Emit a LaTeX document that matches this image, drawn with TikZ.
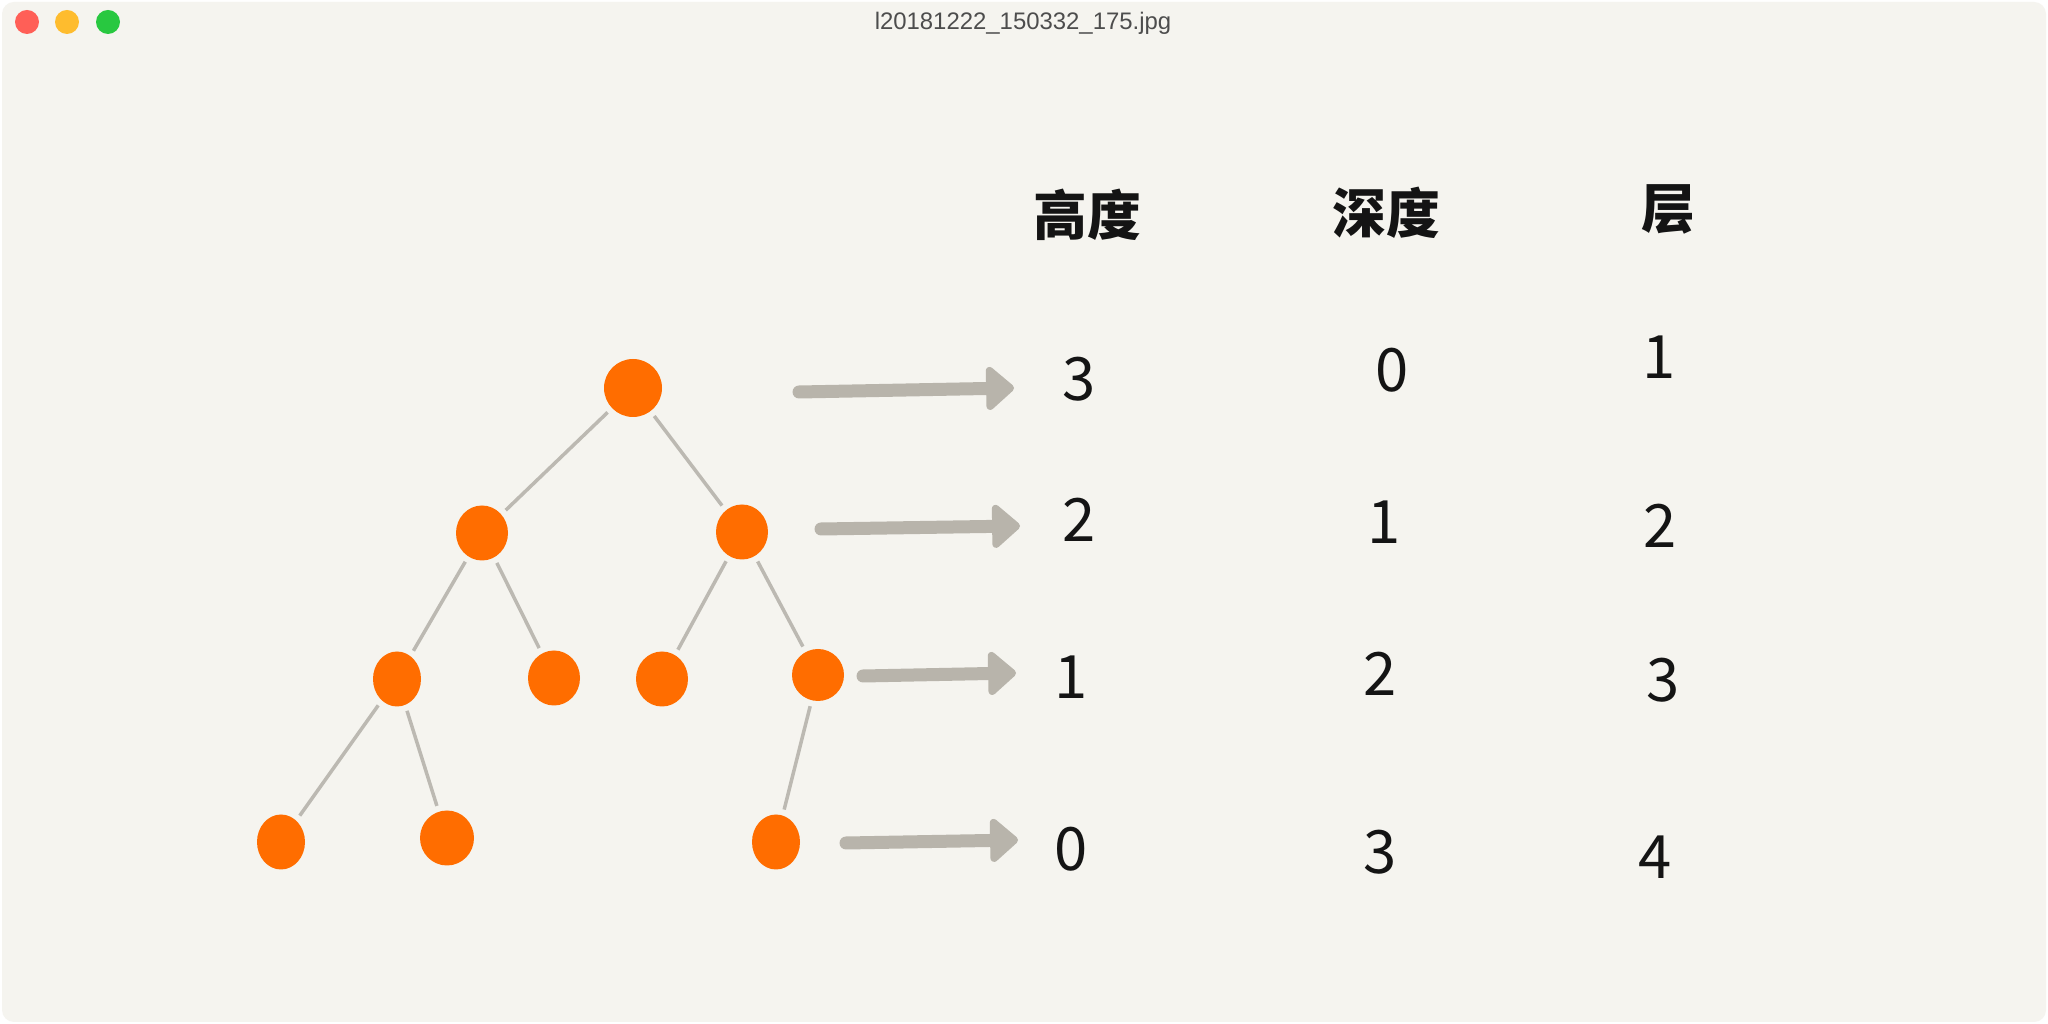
\documentclass[tikz,border=0pt]{standalone}
\usepackage{fontspec}
\setmainfont{Liberation Sans}
\newfontfamily\cjk{Noto Sans CJK SC}
\usetikzlibrary{arrows.meta,shapes.geometric}
\definecolor{winbg}{HTML}{F5F4EF}
\definecolor{nodeorange}{HTML}{FF6D00}
\definecolor{edgegray}{HTML}{BCB9B2}
\definecolor{arrowgray}{HTML}{B8B4AB}
\definecolor{inkblack}{HTML}{141414}
\definecolor{titlegray}{HTML}{4D4D4D}
\definecolor{btnred}{HTML}{FF5F57}
\definecolor{btnyellow}{HTML}{FEBC2E}
\definecolor{btngreen}{HTML}{28C840}
\tikzset{
  treenode/.style={ellipse,fill=nodeorange,draw=none,inner sep=0pt,minimum width=52bp,minimum height=55bp},
  treeedge/.style={draw=edgegray,line width=3.5bp,shorten <=6bp,shorten >=6bp},
  levelarrow/.style={draw=arrowgray,line width=13bp,line cap=round,-{Triangle[length=30bp,width=50bp,round]}},
  header/.style={font=\cjk\bfseries\fontsize{54}{60}\selectfont,text=inkblack},
  value/.style={font=\cjk\fontsize{60}{66}\selectfont,text=inkblack},
  winbutton/.style={circle,inner sep=0pt,minimum size=24bp},
}
\begin{document}
\begin{tikzpicture}[>=latex,line join=bevel,]
\useasboundingbox (0bp,0bp) rectangle (2048bp,1024bp);
\fill [white] (0bp,0bp) rectangle (2048bp,1024bp);
\fill [winbg,rounded corners=12bp] (2bp,2bp) rectangle (2046bp,1022bp);
%% title bar
\node (btn_close) at (27bp,1002bp) [winbutton,fill=btnred] {};
  \node (btn_min) at (67bp,1002bp) [winbutton,fill=btnyellow] {};
  \node (btn_max) at (108bp,1002bp) [winbutton,fill=btngreen] {};
  \node (title) at (1023bp,1001bp) [text=titlegray,font=\fontsize{24}{28}\selectfont] {l20181222\_150332\_175.jpg};
%% tree
\node (node_0) at (633bp,636bp) [treenode,minimum width=58bp,minimum height=58bp] {};
  \node (node_1) at (482bp,491bp) [treenode] {};
  \node (node_2) at (742bp,492bp) [treenode] {};
  \node (node_3) at (397bp,345bp) [treenode,minimum width=48bp] {};
  \node (node_4) at (554bp,346bp) [treenode] {};
  \node (node_5) at (662bp,345bp) [treenode] {};
  \node (node_6) at (818bp,349bp) [treenode,minimum height=52bp] {};
  \node (node_7) at (281bp,182bp) [treenode,minimum width=48bp] {};
  \node (node_8) at (447bp,186bp) [treenode,minimum width=54bp] {};
  \node (node_9) at (776bp,182bp) [treenode,minimum width=48bp] {};
  \draw [treeedge] (node_0) -- (node_1);
  \draw [treeedge] (node_0) -- (node_2);
  \draw [treeedge] (node_1) -- (node_3);
  \draw [treeedge] (node_1) -- (node_4);
  \draw [treeedge] (node_2) -- (node_5);
  \draw [treeedge] (node_2) -- (node_6);
  \draw [treeedge] (node_3) -- (node_7);
  \draw [treeedge] (node_3) -- (node_8);
  \draw [treeedge] (node_6) -- (node_9);
%% level arrows
\coordinate (tail_0) at (799bp,632bp);
  \coordinate (head_0) at (1014bp,636bp);
  \coordinate (tail_1) at (821bp,495bp);
  \coordinate (head_1) at (1020bp,498bp);
  \coordinate (tail_2) at (863bp,348bp);
  \coordinate (head_2) at (1016bp,351bp);
  \coordinate (tail_3) at (846bp,181bp);
  \coordinate (head_3) at (1018bp,184bp);
  \draw [levelarrow] (tail_0) -- (head_0);
  \draw [levelarrow] (tail_1) -- (head_1);
  \draw [levelarrow] (tail_2) -- (head_2);
  \draw [levelarrow] (tail_3) -- (head_3);
%% table
\node (head_height) at (1087bp,809bp) [header] {高度};
  \node (head_depth) at (1386bp,811bp) [header] {深度};
  \node (head_level) at (1668bp,815bp) [header] {层};
  \node (height_0) at (1079bp,645bp) [value] {3};
  \node (depth_0) at (1392bp,654bp) [value] {0};
  \node (level_0) at (1659bp,667bp) [value] {1};
  \node (height_1) at (1079bp,504bp) [value] {2};
  \node (depth_1) at (1384bp,502bp) [value] {1};
  \node (level_1) at (1660bp,498bp) [value] {2};
  \node (height_2) at (1071bp,347bp) [value] {1};
  \node (depth_2) at (1380bp,350bp) [value] {2};
  \node (level_2) at (1663bp,344bp) [value] {3};
  \node (height_3) at (1071bp,175bp) [value] {0};
  \node (depth_3) at (1380bp,172bp) [value] {3};
  \node (level_3) at (1655bp,167bp) [value] {4};
%
\end{tikzpicture}
\end{document}
